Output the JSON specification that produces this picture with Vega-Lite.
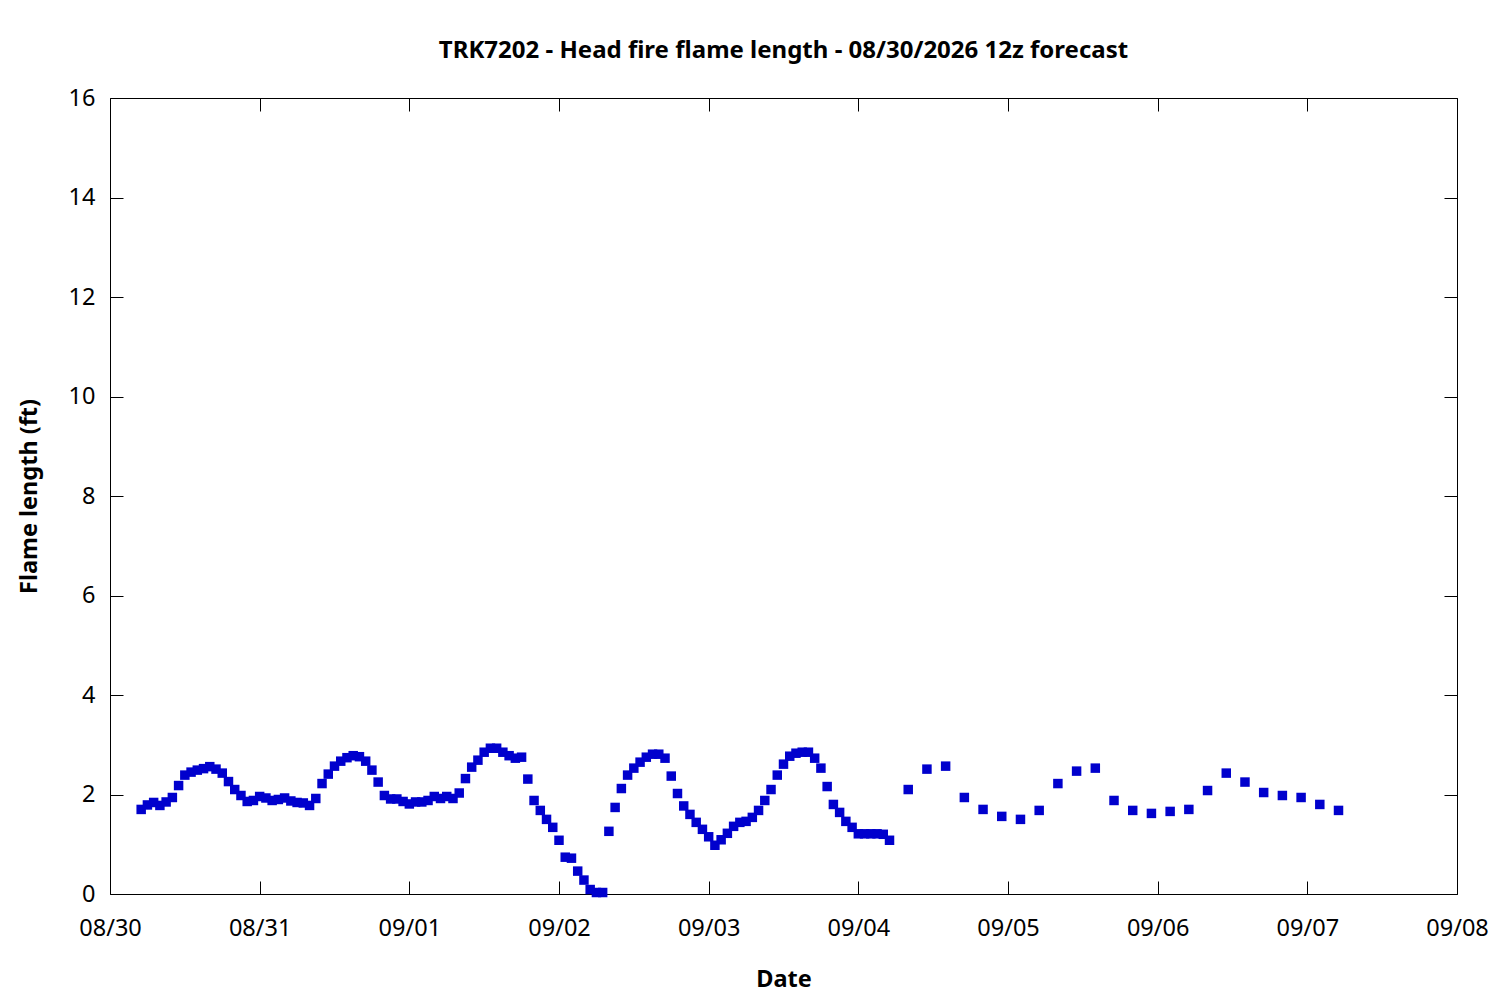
{
  "$schema": "https://vega.github.io/schema/vega-lite/v6.json",
  "description": "Head fire flame length forecast for TRK7202",
  "autosize": {"type": "none"},
  "padding": {"left": 110, "top": 98, "right": 43, "bottom": 106},
  "width": 1347,
  "height": 796,
  "background": "white",
  "title": {
    "text": "TRK7202 - Head fire flame length - 08/30/2026 12z forecast",
    "font": "Noto Sans",
    "fontSize": 24,
    "fontWeight": "bold",
    "color": "black",
    "anchor": "middle",
    "baseline": "alphabetic",
    "offset": 4
  },
  "data": {
    "values": [
      {"time": "2026-08-30T05:00:00Z", "ft": 1.70},
      {"time": "2026-08-30T06:00:00Z", "ft": 1.79},
      {"time": "2026-08-30T07:00:00Z", "ft": 1.84},
      {"time": "2026-08-30T08:00:00Z", "ft": 1.78},
      {"time": "2026-08-30T09:00:00Z", "ft": 1.85},
      {"time": "2026-08-30T10:00:00Z", "ft": 1.94},
      {"time": "2026-08-30T11:00:00Z", "ft": 2.18},
      {"time": "2026-08-30T12:00:00Z", "ft": 2.39},
      {"time": "2026-08-30T13:00:00Z", "ft": 2.45},
      {"time": "2026-08-30T14:00:00Z", "ft": 2.49},
      {"time": "2026-08-30T15:00:00Z", "ft": 2.52},
      {"time": "2026-08-30T16:00:00Z", "ft": 2.56},
      {"time": "2026-08-30T17:00:00Z", "ft": 2.51},
      {"time": "2026-08-30T18:00:00Z", "ft": 2.43},
      {"time": "2026-08-30T19:00:00Z", "ft": 2.26},
      {"time": "2026-08-30T20:00:00Z", "ft": 2.10},
      {"time": "2026-08-30T21:00:00Z", "ft": 1.98},
      {"time": "2026-08-30T22:00:00Z", "ft": 1.86},
      {"time": "2026-08-30T23:00:00Z", "ft": 1.88},
      {"time": "2026-08-31T00:00:00Z", "ft": 1.96},
      {"time": "2026-08-31T01:00:00Z", "ft": 1.93},
      {"time": "2026-08-31T02:00:00Z", "ft": 1.88},
      {"time": "2026-08-31T03:00:00Z", "ft": 1.90},
      {"time": "2026-08-31T04:00:00Z", "ft": 1.93},
      {"time": "2026-08-31T05:00:00Z", "ft": 1.87},
      {"time": "2026-08-31T06:00:00Z", "ft": 1.84},
      {"time": "2026-08-31T07:00:00Z", "ft": 1.83},
      {"time": "2026-08-31T08:00:00Z", "ft": 1.78},
      {"time": "2026-08-31T09:00:00Z", "ft": 1.92},
      {"time": "2026-08-31T10:00:00Z", "ft": 2.22},
      {"time": "2026-08-31T11:00:00Z", "ft": 2.41},
      {"time": "2026-08-31T12:00:00Z", "ft": 2.57},
      {"time": "2026-08-31T13:00:00Z", "ft": 2.67},
      {"time": "2026-08-31T14:00:00Z", "ft": 2.74},
      {"time": "2026-08-31T15:00:00Z", "ft": 2.78},
      {"time": "2026-08-31T16:00:00Z", "ft": 2.76},
      {"time": "2026-08-31T17:00:00Z", "ft": 2.67},
      {"time": "2026-08-31T18:00:00Z", "ft": 2.49},
      {"time": "2026-08-31T19:00:00Z", "ft": 2.25},
      {"time": "2026-08-31T20:00:00Z", "ft": 1.98},
      {"time": "2026-08-31T21:00:00Z", "ft": 1.91},
      {"time": "2026-08-31T22:00:00Z", "ft": 1.91},
      {"time": "2026-08-31T23:00:00Z", "ft": 1.86},
      {"time": "2026-09-01T00:00:00Z", "ft": 1.81},
      {"time": "2026-09-01T01:00:00Z", "ft": 1.85},
      {"time": "2026-09-01T02:00:00Z", "ft": 1.85},
      {"time": "2026-09-01T03:00:00Z", "ft": 1.88},
      {"time": "2026-09-01T04:00:00Z", "ft": 1.96},
      {"time": "2026-09-01T05:00:00Z", "ft": 1.92},
      {"time": "2026-09-01T06:00:00Z", "ft": 1.96},
      {"time": "2026-09-01T07:00:00Z", "ft": 1.92},
      {"time": "2026-09-01T08:00:00Z", "ft": 2.03},
      {"time": "2026-09-01T09:00:00Z", "ft": 2.32},
      {"time": "2026-09-01T10:00:00Z", "ft": 2.55},
      {"time": "2026-09-01T11:00:00Z", "ft": 2.69},
      {"time": "2026-09-01T12:00:00Z", "ft": 2.85},
      {"time": "2026-09-01T13:00:00Z", "ft": 2.93},
      {"time": "2026-09-01T14:00:00Z", "ft": 2.93},
      {"time": "2026-09-01T15:00:00Z", "ft": 2.85},
      {"time": "2026-09-01T16:00:00Z", "ft": 2.78},
      {"time": "2026-09-01T17:00:00Z", "ft": 2.73},
      {"time": "2026-09-01T18:00:00Z", "ft": 2.75},
      {"time": "2026-09-01T19:00:00Z", "ft": 2.31},
      {"time": "2026-09-01T20:00:00Z", "ft": 1.88},
      {"time": "2026-09-01T21:00:00Z", "ft": 1.68},
      {"time": "2026-09-01T22:00:00Z", "ft": 1.50},
      {"time": "2026-09-01T23:00:00Z", "ft": 1.34},
      {"time": "2026-09-02T00:00:00Z", "ft": 1.08},
      {"time": "2026-09-02T01:00:00Z", "ft": 0.74},
      {"time": "2026-09-02T02:00:00Z", "ft": 0.72},
      {"time": "2026-09-02T03:00:00Z", "ft": 0.46},
      {"time": "2026-09-02T04:00:00Z", "ft": 0.28},
      {"time": "2026-09-02T05:00:00Z", "ft": 0.09},
      {"time": "2026-09-02T06:00:00Z", "ft": 0.03},
      {"time": "2026-09-02T07:00:00Z", "ft": 0.03},
      {"time": "2026-09-02T08:00:00Z", "ft": 1.26},
      {"time": "2026-09-02T09:00:00Z", "ft": 1.74},
      {"time": "2026-09-02T10:00:00Z", "ft": 2.12},
      {"time": "2026-09-02T11:00:00Z", "ft": 2.39},
      {"time": "2026-09-02T12:00:00Z", "ft": 2.53},
      {"time": "2026-09-02T13:00:00Z", "ft": 2.65},
      {"time": "2026-09-02T14:00:00Z", "ft": 2.75},
      {"time": "2026-09-02T15:00:00Z", "ft": 2.81},
      {"time": "2026-09-02T16:00:00Z", "ft": 2.81},
      {"time": "2026-09-02T17:00:00Z", "ft": 2.73},
      {"time": "2026-09-02T18:00:00Z", "ft": 2.37},
      {"time": "2026-09-02T19:00:00Z", "ft": 2.02},
      {"time": "2026-09-02T20:00:00Z", "ft": 1.77},
      {"time": "2026-09-02T21:00:00Z", "ft": 1.60},
      {"time": "2026-09-02T22:00:00Z", "ft": 1.44},
      {"time": "2026-09-02T23:00:00Z", "ft": 1.30},
      {"time": "2026-09-03T00:00:00Z", "ft": 1.15},
      {"time": "2026-09-03T01:00:00Z", "ft": 0.98},
      {"time": "2026-09-03T02:00:00Z", "ft": 1.09},
      {"time": "2026-09-03T03:00:00Z", "ft": 1.22},
      {"time": "2026-09-03T04:00:00Z", "ft": 1.36},
      {"time": "2026-09-03T05:00:00Z", "ft": 1.44},
      {"time": "2026-09-03T06:00:00Z", "ft": 1.46},
      {"time": "2026-09-03T07:00:00Z", "ft": 1.54},
      {"time": "2026-09-03T08:00:00Z", "ft": 1.68},
      {"time": "2026-09-03T09:00:00Z", "ft": 1.88},
      {"time": "2026-09-03T10:00:00Z", "ft": 2.10},
      {"time": "2026-09-03T11:00:00Z", "ft": 2.39},
      {"time": "2026-09-03T12:00:00Z", "ft": 2.61},
      {"time": "2026-09-03T13:00:00Z", "ft": 2.77},
      {"time": "2026-09-03T14:00:00Z", "ft": 2.83},
      {"time": "2026-09-03T15:00:00Z", "ft": 2.85},
      {"time": "2026-09-03T16:00:00Z", "ft": 2.85},
      {"time": "2026-09-03T17:00:00Z", "ft": 2.73},
      {"time": "2026-09-03T18:00:00Z", "ft": 2.53},
      {"time": "2026-09-03T19:00:00Z", "ft": 2.16},
      {"time": "2026-09-03T20:00:00Z", "ft": 1.80},
      {"time": "2026-09-03T21:00:00Z", "ft": 1.64},
      {"time": "2026-09-03T22:00:00Z", "ft": 1.46},
      {"time": "2026-09-03T23:00:00Z", "ft": 1.34},
      {"time": "2026-09-04T00:00:00Z", "ft": 1.21},
      {"time": "2026-09-04T01:00:00Z", "ft": 1.21},
      {"time": "2026-09-04T02:00:00Z", "ft": 1.21},
      {"time": "2026-09-04T03:00:00Z", "ft": 1.21},
      {"time": "2026-09-04T04:00:00Z", "ft": 1.20},
      {"time": "2026-09-04T05:00:00Z", "ft": 1.08},
      {"time": "2026-09-04T08:00:00Z", "ft": 2.10},
      {"time": "2026-09-04T11:00:00Z", "ft": 2.51},
      {"time": "2026-09-04T14:00:00Z", "ft": 2.57},
      {"time": "2026-09-04T17:00:00Z", "ft": 1.94},
      {"time": "2026-09-04T20:00:00Z", "ft": 1.70},
      {"time": "2026-09-04T23:00:00Z", "ft": 1.56},
      {"time": "2026-09-05T02:00:00Z", "ft": 1.50},
      {"time": "2026-09-05T05:00:00Z", "ft": 1.68},
      {"time": "2026-09-05T08:00:00Z", "ft": 2.22},
      {"time": "2026-09-05T11:00:00Z", "ft": 2.47},
      {"time": "2026-09-05T14:00:00Z", "ft": 2.53},
      {"time": "2026-09-05T17:00:00Z", "ft": 1.88},
      {"time": "2026-09-05T20:00:00Z", "ft": 1.68},
      {"time": "2026-09-05T23:00:00Z", "ft": 1.62},
      {"time": "2026-09-06T02:00:00Z", "ft": 1.66},
      {"time": "2026-09-06T05:00:00Z", "ft": 1.70},
      {"time": "2026-09-06T08:00:00Z", "ft": 2.08},
      {"time": "2026-09-06T11:00:00Z", "ft": 2.43},
      {"time": "2026-09-06T14:00:00Z", "ft": 2.25},
      {"time": "2026-09-06T17:00:00Z", "ft": 2.04},
      {"time": "2026-09-06T20:00:00Z", "ft": 1.98},
      {"time": "2026-09-06T23:00:00Z", "ft": 1.94},
      {"time": "2026-09-07T02:00:00Z", "ft": 1.80},
      {"time": "2026-09-07T05:00:00Z", "ft": 1.68}
    ]
  },
  "layer": [
    {
      "mark": {"type": "square", "color": "#0000cd", "filled": true, "size": 90, "opacity": 1},
      "encoding": {
        "x": {
          "field": "time",
          "type": "temporal",
          "scale": {"type": "utc", "domain": [{"year": 2026, "month": 8, "date": 30, "utc": true}, {"year": 2026, "month": 9, "date": 8, "utc": true}]},
          "axis": {
            "orient": "bottom",
            "title": "Date",
            "labelExpr": "utcFormat(datum.value, '%m/%d')",
            "tickCount": {"interval": "day", "step": 1},
            "tickSize": -13,
            "labelPadding": 35,
            "titlePadding": 28
          }
        },
        "y": {
          "field": "ft",
          "type": "quantitative",
          "scale": {"domain": [0, 16], "nice": false},
          "axis": {
            "orient": "left",
            "title": "Flame length (ft)",
            "values": [0, 2, 4, 6, 8, 10, 12, 14, 16],
            "tickSize": -13,
            "labelPadding": 28,
            "titlePadding": 27
          }
        }
      }
    },
    {
      "mark": {"type": "square", "opacity": 0},
      "encoding": {
        "x": {
          "field": "time",
          "type": "temporal",
          "scale": {"type": "utc", "domain": [{"year": 2026, "month": 8, "date": 30, "utc": true}, {"year": 2026, "month": 9, "date": 8, "utc": true}]},
          "axis": {"orient": "top", "title": null, "labels": false, "tickCount": {"interval": "day", "step": 1}, "tickSize": -13}
        },
        "y": {
          "field": "ft",
          "type": "quantitative",
          "scale": {"domain": [0, 16], "nice": false},
          "axis": {"orient": "right", "title": null, "labels": false, "values": [0, 2, 4, 6, 8, 10, 12, 14, 16], "tickSize": -13}
        }
      }
    }
  ],
  "resolve": {"axis": {"x": "independent", "y": "independent"}},
  "config": {
    "font": "Noto Sans",
    "view": {"stroke": "black", "strokeWidth": 1},
    "axis": {
      "domain": false,
      "grid": false,
      "tickColor": "black",
      "tickWidth": 1,
      "labelColor": "black",
      "labelFont": "Noto Sans",
      "labelFontSize": 23.5,
      "labelFlush": false,
      "labelOverlap": false,
      "labelBound": false,
      "titleColor": "black",
      "titleFont": "Noto Sans",
      "titleFontSize": 23.5,
      "titleFontWeight": "bold"
    }
  }
}
